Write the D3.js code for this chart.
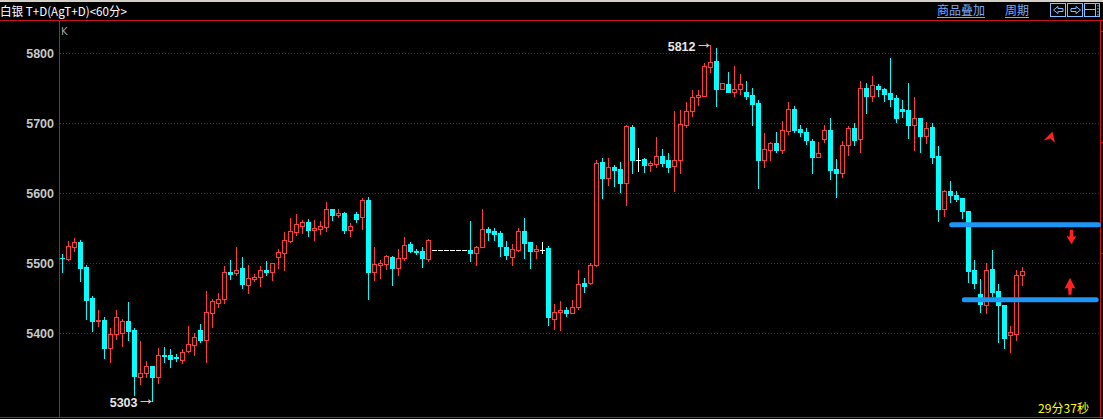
<!DOCTYPE html>
<html><head><meta charset="utf-8">
<script src="https://cdn.jsdelivr.net/npm/d3@7/dist/d3.min.js"></script>
<style>
html,body{margin:0;padding:0;background:#000;overflow:hidden}
svg{display:block}
</style></head><body>
<svg id="chart" width="1103" height="419"></svg>
<script>
// 白银 T+D hourly bars: open / high / low / close
const opens = [5508,5506,5524,5530,5495,5450,5418,5419,5379,5399,5400,5418,5405,5337,5344,5354,5337,5369,5369,5366,
  5362,5375,5384,5405,5391,5429,5444,5449,5488,5486,5493,5469,5478,5480,5490,5488,5509,5515,5532,5545,
  5554,5559,5547,5549,5552,5577,5569,5572,5547,5570,5566,5590,5487,5498,5499,5509,5494,5507,5527,5518,
  5518,5506,5519,5519,5519,5519,5519,5519,5519,5515,5524,5549,5546,5543,5523,5509,5519,5546,5530,5517,
  5519,5522,5421,5431,5434,5429,5437,5472,5472,5497,5645,5622,5638,5635,5615,5695,5647,5649,5641,5642,
  5653,5648,5639,5647,5698,5717,5737,5739,5781,5789,5749,5756,5745,5749,5745,5740,5729,5647,5662,5672,
  5662,5689,5720,5692,5688,5675,5652,5678,5690,5635,5629,5669,5693,5677,5750,5739,5753,5749,5743,5736,
  5720,5719,5697,5707,5682,5694,5653,5577,5604,5598,5593,5575,5490,5456,5441,5492,5460,5440,5397,5399,5484];
const highs = [5513,5532,5536,5533,5498,5454,5433,5424,5407,5433,5420,5445,5407,5389,5360,5354,5379,5380,5378,5370,
  5378,5410,5400,5413,5460,5449,5457,5496,5505,5523,5509,5498,5485,5496,5503,5501,5520,5545,5565,5570,
  5562,5563,5562,5560,5588,5578,5577,5574,5557,5574,5593,5595,5523,5505,5512,5510,5521,5537,5530,5521,
  5523,5535,5519,5519,5519,5519,5519,5519,5560,5525,5578,5552,5550,5546,5532,5527,5550,5565,5531,5526,
  5530,5525,5442,5446,5437,5448,5490,5479,5500,5647,5650,5650,5640,5645,5698,5698,5665,5650,5646,5680,
  5663,5658,5718,5719,5730,5747,5748,5786,5812,5807,5757,5773,5782,5770,5760,5750,5733,5686,5674,5688,
  5703,5730,5725,5698,5693,5678,5673,5698,5708,5649,5675,5696,5700,5760,5758,5768,5756,5751,5793,5740,
  5734,5758,5738,5708,5702,5700,5668,5605,5618,5603,5594,5575,5505,5478,5500,5519,5470,5441,5411,5490,5495];
const lows = [5488,5505,5518,5475,5421,5404,5411,5365,5359,5392,5382,5390,5312,5327,5338,5303,5329,5359,5352,5361,
  5357,5373,5369,5387,5359,5409,5437,5444,5478,5484,5465,5458,5475,5467,5483,5476,5494,5491,5530,5541,
  5543,5539,5533,5542,5546,5562,5566,5544,5539,5559,5549,5449,5476,5479,5492,5469,5484,5505,5516,5513,
  5495,5503,5519,5519,5519,5519,5519,5519,5503,5497,5523,5533,5533,5511,5506,5497,5518,5508,5494,5508,
  5515,5412,5406,5405,5425,5429,5435,5459,5471,5496,5594,5612,5610,5602,5583,5629,5632,5630,5632,5638,
  5639,5630,5604,5629,5695,5710,5726,5739,5774,5725,5749,5745,5739,5742,5735,5698,5608,5637,5647,5659,
  5657,5685,5687,5682,5670,5629,5652,5673,5621,5595,5624,5655,5669,5659,5715,5732,5739,5732,5725,5702,
  5709,5679,5662,5659,5672,5644,5561,5567,5587,5589,5565,5474,5465,5431,5429,5453,5388,5379,5374,5391,5469];
const closes = [5507,5525,5530,5494,5448,5417,5419,5379,5399,5423,5418,5404,5339,5343,5354,5337,5369,5367,5364,5365,
  5374,5385,5395,5390,5430,5446,5449,5487,5485,5490,5471,5479,5480,5491,5488,5500,5516,5533,5546,5556,
  5559,5548,5550,5554,5577,5569,5572,5547,5554,5563,5590,5487,5499,5500,5510,5494,5507,5526,5517,5516,
  5508,5533,5519,5519,5519,5519,5519,5519,5515,5524,5549,5545,5542,5525,5512,5520,5546,5529,5517,5520,
  5519,5424,5430,5434,5429,5437,5471,5468,5497,5644,5622,5637,5634,5615,5696,5647,5647,5640,5644,5653,
  5644,5637,5648,5699,5718,5738,5741,5782,5787,5749,5757,5745,5749,5756,5739,5728,5647,5663,5672,5662,
  5690,5720,5690,5687,5676,5652,5658,5690,5634,5629,5669,5693,5676,5751,5739,5754,5749,5742,5735,5708,
  5718,5697,5707,5682,5693,5652,5578,5604,5597,5592,5575,5489,5472,5442,5490,5459,5441,5394,5402,5484,5489];

const priceTicks = [5400, 5500, 5600, 5700, 5800];
const titleText = "白银 T+D(AgT+D)<60分>";
const menuItems = ["商品叠加", "周期"];
const countdownText = "29分37秒";
// user-drawn horizontal levels, the bar each one starts at and where it ends
const levelPrices = [5555, 5448];
const levelStartBars = [148.2, 150.3];
const levelEndX = [1098.5, 1096.2];

const W = 1103, H = 419;
const C = {
  up: "#ff3c3c", down: "#00ffff", flat: "#ffffff", frame: "#c81414",
  grid: "#a01010", axisText: "#c8c8c8", link: "#78aaff", level: "#1e96f5"
};

const svg = d3.select("#chart");
svg.append("rect").attr("width", W).attr("height", H).attr("fill", "#000");

const n = opens.length;
const bars = d3.range(n).map(i => ({ i, o: opens[i], h: highs[i], l: lows[i], c: closes[i] }));

const x = d3.scaleBand().domain(d3.range(n)).range([59.5, 59.5 + 6 * n]);
const y = d3.scaleLinear().domain([5300, 5800]).range([403.3, 53.3]);
const cx = i => x(i) + x.bandwidth() / 2;
const py = v => Math.round(y(v));

// header strip
svg.append("rect").attr("x", 0).attr("y", 0).attr("width", W).attr("height", 2).attr("fill", "#d4d0c8");
svg.append("text").attr("x", 0).attr("y", 16)
  .attr("fill", "#ffffff").attr("font-family", "'Noto Sans CJK SC', sans-serif").attr("font-size", 12)
  .attr("textLength", 127).attr("lengthAdjust", "spacingAndGlyphs").text(titleText);

const menuX = [937, 1005];
menuItems.forEach((t, k) => {
  const w = t.length * 12;
  svg.append("text").attr("x", menuX[k]).attr("y", 15)
    .attr("fill", C.link).attr("font-family", "'Noto Sans CJK SC', sans-serif").attr("font-size", 12)
    .attr("textLength", w).attr("lengthAdjust", "spacingAndGlyphs").text(t);
  svg.append("line").attr("x1", menuX[k]).attr("x2", menuX[k] + w).attr("y1", 17.5).attr("y2", 17.5)
    .attr("stroke", C.link).attr("stroke-width", 1);
});

// navigation buttons
const btn = svg.append("g").attr("fill", "none").attr("stroke", "#80c0ff").attr("stroke-width", 1);
[1050.5, 1067.5, 1084.5].forEach(bx => btn.append("rect").attr("x", bx).attr("y", 3.5).attr("width", 15).attr("height", 13));
btn.append("path").attr("d", "M1053.5,10 L1058,6.5 L1058,8.5 L1063,8.5 L1063,11.5 L1058,11.5 L1058,13.5 Z");
btn.append("path").attr("d", "M1080.5,10 L1076,6.5 L1076,8.5 L1071,8.5 L1071,11.5 L1076,11.5 L1076,13.5 Z");
btn.append("path").attr("d", "M1095.5,3.5 L1095.5,16.5 M1084.5,9.5 L1095.5,9.5");
[5, 8, 11, 14].forEach(dy => svg.append("rect").attr("x", 1097.5).attr("y", dy).attr("width", 1).attr("height", 1.5).attr("fill", "#80c0ff"));

// frame
const frame = svg.append("g").attr("stroke", C.frame).attr("stroke-width", 1);
frame.append("line").attr("x1", 0).attr("x2", W).attr("y1", 20.5).attr("y2", 20.5);
frame.append("line").attr("x1", 0).attr("x2", W).attr("y1", 417.5).attr("y2", 417.5);
frame.append("line").attr("x1", 59.5).attr("x2", 59.5).attr("y1", 20.5).attr("y2", 417.5);
frame.append("line").attr("x1", 1100.5).attr("x2", 1100.5).attr("y1", 20.5).attr("y2", 417.5);
[31, 142, 253].forEach(ty => frame.append("line").attr("x1", 1100.5).attr("x2", W).attr("y1", ty + 0.5).attr("y2", ty + 0.5));

// dotted price grid
svg.append("g").selectAll("line").data(priceTicks).join("line")
  .attr("x1", 60).attr("x2", 1100)
  .attr("y1", d => py(d) + 0.5).attr("y2", d => py(d) + 0.5)
  .attr("stroke", C.grid).attr("stroke-width", 1).attr("stroke-dasharray", "1,2");

// price axis
const yAxis = d3.axisLeft(y).tickValues(priceTicks).tickSize(0).tickPadding(5).tickFormat(d3.format("d"));
const ag = svg.append("g").attr("transform", "translate(59,0)").call(yAxis);
ag.select(".domain").remove();
ag.selectAll("text").attr("fill", C.axisText).attr("font-family", "'Liberation Sans', Arial, sans-serif")
  .attr("font-size", 12.5).attr("font-weight", "bold");

svg.append("text").attr("x", 61).attr("y", 35).attr("fill", "#a0a0a0")
  .attr("font-family", "'DejaVu Sans', sans-serif").attr("font-size", 10).text("K");

// candles: red hollow = up, cyan filled = down, white = unchanged
const g = svg.append("g");
bars.forEach(b => {
  const xc = cx(b.i);
  const col = b.c > b.o ? C.up : (b.c < b.o ? C.down : C.flat);
  const yh = py(b.h), yl = py(b.l);
  if (yl > yh) {
    g.append("line").attr("x1", xc).attr("x2", xc).attr("y1", yh).attr("y2", yl + 1)
      .attr("stroke", col).attr("stroke-width", 1);
  }
  const top = py(Math.max(b.o, b.c)), bot = py(Math.min(b.o, b.c));
  if (b.c === b.o) {
    g.append("rect").attr("x", xc - 2.5).attr("y", top).attr("width", 5).attr("height", 1).attr("fill", col);
  } else if (b.c < b.o) {
    g.append("rect").attr("x", xc - 2.5).attr("y", top).attr("width", 5)
      .attr("height", Math.max(1, bot - top + 1)).attr("fill", col);
  } else if (bot - top <= 1) {
    g.append("rect").attr("x", xc - 2.5).attr("y", top).attr("width", 5)
      .attr("height", bot - top + 1).attr("fill", col);
  } else {
    g.append("rect").attr("x", xc - 2).attr("y", top + 0.5).attr("width", 4)
      .attr("height", bot - top).attr("fill", "#000").attr("stroke", col).attr("stroke-width", 1);
  }
});

// extreme price labels
const hiIdx = d3.maxIndex(highs), loIdx = d3.minIndex(lows);
function extremeLabel(idx, val) {
  const xe = cx(idx) - 1, ye = py(val) + 0.5;
  const lg = svg.append("g");
  lg.append("line").attr("x1", xe - 11).attr("x2", xe).attr("y1", ye).attr("y2", ye)
    .attr("stroke", "#c8c8c8").attr("stroke-width", 1);
  lg.append("path").attr("d", `M${xe},${ye} L${xe - 3},${ye - 2.5} L${xe - 3},${ye + 2.5} Z`).attr("fill", "#c8c8c8");
  lg.append("text").attr("x", xe - 14).attr("y", ye + 5).attr("text-anchor", "end")
    .attr("fill", "#e6e6e6").attr("font-family", "'Liberation Sans', Arial, sans-serif")
    .attr("font-size", 12.5).attr("font-weight", "bold").text(val);
}
extremeLabel(hiIdx, highs[hiIdx]);
extremeLabel(loIdx, lows[loIdx]);

// drawn levels
levelPrices.forEach((p, k) => {
  svg.append("line").attr("x1", cx(0) + 6 * levelStartBars[k]).attr("x2", levelEndX[k])
    .attr("y1", y(p)).attr("y2", y(p))
    .attr("stroke", C.level).attr("stroke-width", 5).attr("stroke-linecap", "round");
});

// alert arrows beside the levels
const yA = y(levelPrices[0]), yB = y(levelPrices[1]);
svg.append("path")
  .attr("d", `M1071.5,${yA + 19.5} L1066.5,${yA + 11} L1069.5,${yA + 12} L1070,${yA + 5} L1073,${yA + 5} L1073.5,${yA + 12} L1076.5,${yA + 11} Z`)
  .attr("fill", "#ff2020");
svg.append("path")
  .attr("d", `M1070,${yB - 22} L1075.5,${yB - 11} L1072,${yB - 12} L1071.5,${yB - 5} L1068.5,${yB - 5} L1068,${yB - 12} L1064.5,${yB - 11} Z`)
  .attr("fill", "#ff2020");
svg.append("path").attr("d", "M1052.5,131.5 L1055,143 L1050.5,138.5 L1043.5,140.5 Z").attr("fill", "#ff2020");

// countdown to bar close
svg.append("text").attr("x", 1038).attr("y", 413).attr("fill", "#ffff00")
  .attr("font-family", "'Noto Sans CJK SC', sans-serif").attr("font-size", 12)
  .attr("textLength", 51).attr("lengthAdjust", "spacingAndGlyphs").text(countdownText);
</script>
</body></html>
